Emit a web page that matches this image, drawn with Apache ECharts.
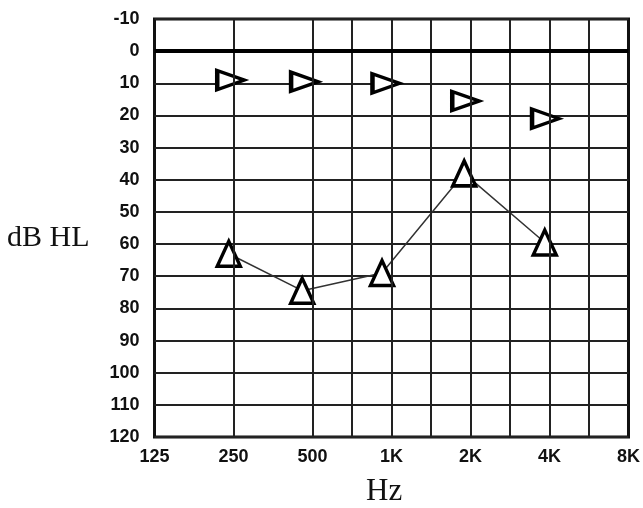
<!DOCTYPE html>
<html>
<head>
<meta charset="utf-8">
<script src="https://cdn.jsdelivr.net/npm/echarts@6/dist/echarts.min.js"></script>
<style>
html,body{margin:0;padding:0;background:#fff;}
#c{width:643px;height:508px;}
</style>
</head>
<body>
<div id="c"></div>
<script>
// x positions are in octaves above 125 Hz (0 = 125, 1 = 250, ..., 6 = 8K)
var freqLabels = ["125", "250", "500", "1K", "2K", "4K", "8K"];
var dbTicks = [-10, 0, 10, 20, 30, 40, 50, 60, 70, 80, 90, 100, 110, 120];
var verticalGrid = [1, 2, 2.5, 3, 3.5, 4, 4.5, 5, 5.5];

// right-pointing triangles (upper row)
var rightX = [0.965, 1.90, 2.93, 3.94, 4.95];
var rightDb = [9, 9.5, 10, 15.5, 21];

// up triangles joined by a line
var upX = [0.94, 1.87, 2.88, 3.92, 4.94];
var upDb = [63, 74.5, 69, 38, 59.5];

function pairs(xs, ys) { return xs.map(function (x, i) { return [x, ys[i]]; }); }

var chart = echarts.init(document.getElementById('c'), null, { renderer: 'canvas' });
var tickFont = { fontFamily: '"Liberation Sans Narrow", "Liberation Sans", Arial, sans-serif', fontWeight: 'bold', fontSize: 18, color: '#111' };

chart.setOption({
  animation: false,
  backgroundColor: '#fff',
  grid: { left: 154.5, right: 13, top: 19, bottom: 71, show: true, borderColor: '#111', borderWidth: 3, backgroundColor: 'transparent' },
  xAxis: {
    type: 'value', min: 0, max: 6, interval: 1,
    axisLine: { show: false }, axisTick: { show: false }, splitLine: { show: false },
    axisLabel: Object.assign({ margin: 11, formatter: function (v) { return freqLabels[Math.round(v)] || ''; } }, tickFont)
  },
  yAxis: {
    type: 'value', inverse: true, min: -10, max: 120, interval: 10,
    axisLine: { show: false }, axisTick: { show: false },
    splitLine: { show: true, lineStyle: { color: '#222', width: 2 } },
    axisLabel: Object.assign({ margin: 15, formatter: function (v) { return dbTicks.indexOf(v) >= 0 ? String(v) : ''; } }, tickFont)
  },
  graphic: [
    { type: 'text', left: 7, top: 223, style: { text: 'dB HL', fontFamily: '"Liberation Serif", "Times New Roman", serif', fontSize: 30, fill: '#111' } },
    { type: 'text', left: 366, top: 476, style: { text: 'Hz', fontFamily: '"Liberation Serif", "Times New Roman", serif', fontSize: 31, fill: '#111' } }
  ],
  series: [
    {
      type: 'line', data: [], z: 1, silent: true,
      markLine: {
        silent: true, symbol: 'none', label: { show: false }, animation: false,
        data: verticalGrid.map(function (v) { return { xAxis: v, lineStyle: { color: '#222', width: 2, type: 'solid' } }; })
          .concat([{ yAxis: 0, lineStyle: { color: '#000', width: 4, type: 'solid' } }])
      }
    },
    {
      type: 'line', data: pairs(upX, upDb), z: 3,
      lineStyle: { color: '#333', width: 1.5 },
      symbol: 'triangle', symbolSize: [23, 25],
      itemStyle: { color: '#fff', borderColor: '#000', borderWidth: 3.5, opacity: 1 }
    },
    {
      type: 'scatter', data: pairs(rightX, rightDb), z: 3,
      symbol: 'triangle', symbolRotate: -90, symbolSize: [19, 27],
      itemStyle: { color: '#fff', borderColor: '#000', borderWidth: 3.8, opacity: 1 }
    }
  ]
});
</script>
</body>
</html>
